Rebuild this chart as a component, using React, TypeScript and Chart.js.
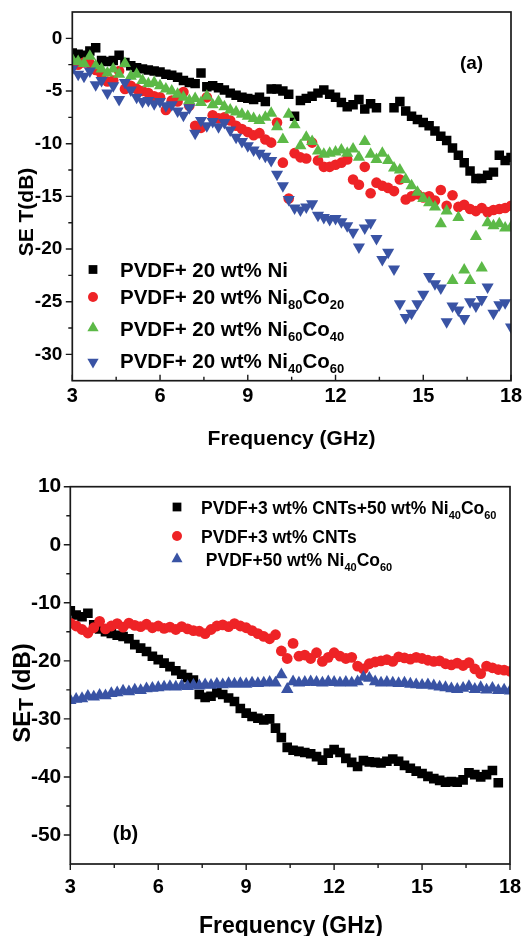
import React, { useEffect, useRef } from "react";
import { Chart, registerables } from "chart.js";

Chart.register(...registerables);

const FONT = '"Liberation Sans", Arial, Helvetica, sans-serif';

// ---------- axis ticks ----------
const FREQ_TICKS = [3, 6, 9, 12, 15, 18];
const FREQ_MINOR = [4.5, 7.5, 10.5, 13.5, 16.5];
const A_Y_TICKS = [0, -5, -10, -15, -20, -25, -30];
const A_Y_MINOR = [-2.5, -7.5, -12.5, -17.5, -22.5, -27.5];
const B_Y_TICKS = [10, 0, -10, -20, -30, -40, -50];
const B_Y_MINOR = [5, -5, -15, -25, -35, -45];

// ---------- frequency grid (GHz) ----------
const FREQ = [
  3.0, 3.2, 3.4, 3.6, 3.8, 4.0, 4.2, 4.4, 4.6, 4.8,
  5.0, 5.2, 5.4, 5.6, 5.8, 6.0, 6.2, 6.4, 6.6, 6.8,
  7.0, 7.2, 7.4, 7.6, 7.8, 8.0, 8.2, 8.4, 8.6, 8.8,
  9.0, 9.2, 9.4, 9.6, 9.8, 10.0, 10.2, 10.4, 10.6, 10.8,
  11.0, 11.2, 11.4, 11.6, 11.8, 12.0, 12.2, 12.4, 12.6, 12.8,
  13.0, 13.2, 13.4, 13.6, 13.8, 14.0, 14.2, 14.4, 14.6, 14.8,
  15.0, 15.2, 15.4, 15.6, 15.8, 16.0, 16.2, 16.4, 16.6, 16.8,
  17.0, 17.2, 17.4, 17.6, 17.8, 18.0,
];

// ---------- panel (a): SE_T (dB) ----------
const A_NI = [
  -1.4, -1.5, -1.6, -1.2, -0.9, -2.1, -2.2, -2.1, -1.6, -2.3,
  -2.6, -2.8, -2.9, -3.0, -3.1, -3.2, -3.4, -3.5, -3.7, -4.0,
  -4.2, -4.3, -3.3, -4.6, -4.5, -4.7, -4.9, -5.2, -5.4, -5.6,
  -5.7, -5.8, -5.6, -6.0, -4.8, -4.8, -5.0, -5.3, -7.4, -5.9,
  -5.7, -5.5, -5.2, -4.9, -5.3, -5.6, -6.1, -6.5, -6.3, -5.8,
  -6.7, -6.2, -6.6, null, null, -6.6, -6.0, -6.9, -7.4, -7.7,
  -8.0, -8.3, -8.8, -9.3, -9.7, -10.4, -11.1, -11.8, -12.6, -13.3,
  -13.3, -13.0, -12.7, -11.1, -11.6, -11.3,
];
const A_NI80CO20 = [
  -2.6, -2.5, -2.3, -2.4, -3.0, -3.4, -4.1, -4.0, -3.1, -4.8,
  -4.5, -4.8, -5.0, -5.2, -5.5, -5.6, -6.8, -5.9, -6.0, -5.1,
  -6.4, -8.3, -8.5, -5.6, -7.3, -7.6, -7.5, -7.8, -8.3, -8.6,
  -8.9, -9.2, -9.0, -9.6, -9.9, -8.0, -11.8, -15.2, -10.9, -11.3,
  -11.4, -9.9, -11.6, -12.2, -12.2, -12.0, -11.8, -11.5, -13.4, -13.9,
  -12.2, -14.7, -13.7, -14.0, -14.2, -14.5, -13.4, -15.3, -15.0, -14.8,
  -15.1, -15.0, -15.4, -14.4, -15.9, -14.9, -16.0, -15.8, -16.2, -16.4,
  -16.1, -16.5, -16.3, -16.2, -16.1, -15.9,
];
const A_NI60CO40 = [
  -2.0, -2.2, -2.4, -1.7, -2.6, -2.9, -3.3, -2.9, -3.4, -2.4,
  -3.6, -3.4, -4.0, -4.3, -4.2, -4.5, -4.8, -5.0, -5.3, -5.6,
  -5.9, -5.7, -6.1, -5.5, -6.3, -6.0, -6.5, -6.8, -7.0, -7.2,
  -7.4, -7.6, -7.8, -7.5, -7.1, -8.4, -9.6, -7.2, -8.2, -10.2,
  -9.4, -9.8, -10.7, -11.0, -10.9, -10.8, -10.6, -10.9, -10.5, -11.3,
  -9.8, -11.0, -11.5, -10.9, -11.6, -12.3, -12.5, -13.4, -14.0, -14.6,
  -15.2, -15.6, -16.0, -17.6, -16.4, -23.0, -17.0, -22.0, -23.0, -18.8,
  -21.8, -17.5, -17.8, -17.6, -18.0, -17.9,
];
const A_NI40CO60 = [
  -2.9, -3.4, -3.6, -3.1, -4.4, -4.0, -5.2, -4.5, -5.8, -4.2,
  -4.9, -5.6, -6.0, -5.9, -6.2, -6.0, -6.4, -6.3, -6.9, -7.3,
  -6.6, -9.0, -7.8, -8.3, -7.9, -8.4, -8.0, -8.7, -9.4, -9.8,
  -10.2, -10.6, -10.9, -11.2, -11.6, -12.9, -14.0, -15.3, -16.1, -16.3,
  -16.0, -15.7, -16.8, -17.0, -17.2, -17.1, -17.4, -17.8, -18.4, -19.8,
  -18.0, -17.5, -19.0, -21.0, -20.3, -21.9, -25.2, -26.5, -26.1, -25.2,
  -24.3, -22.6, -23.3, -23.7, -26.9, -25.4, -25.8, -26.6, -25.0, -25.4,
  -24.8, -23.6, -26.1, -25.3, -25.1, -27.4,
];

// ---------- panel (b): SE_T (dB) ----------
const B_CNT_NICO = [
  -11.4, -12.1, -12.4, -11.8, -13.8, -14.5, -15.0, -15.3, -15.6, -15.8,
  -16.2, -17.2, -17.8, -18.4, -19.2, -19.8, -20.4, -21.0, -21.7, -22.3,
  -22.9, -23.3, -25.8, -26.3, -26.1, -25.5, -25.8, -26.4, -27.0, -28.2,
  -29.0, -29.6, -29.9, -30.2, -30.0, -31.6, -33.2, -34.9, -35.4, -35.6,
  -35.8, -36.0, -36.5, -37.1, -35.9, -35.3, -35.8, -36.8, -37.5, -38.2,
  -37.2, -37.4, -37.5, -37.6, -37.3, -36.9, -37.3, -38.0, -38.5, -39.0,
  -39.4, -39.9, -40.3, -40.6, -40.9, -40.8, -40.9, -40.5, -39.3, -39.6,
  -40.0, -39.6, -38.9, -41.0, null, null,
];
const B_CNT = [
  -13.5, -14.0, -14.6, -15.2, -14.3, -13.2, -14.5, -14.0, -13.6, -14.2,
  -13.5, -13.9, -14.1, -13.7, -14.3, -14.0, -14.4, -14.2, -14.6, -14.1,
  -14.5, -14.8, -14.9, -15.3, -14.6, -14.0, -13.8, -14.1, -13.6, -14.0,
  -14.3, -14.8, -15.3, -15.8, -16.2, -15.5, -18.3, -19.6, -17.0, -19.2,
  -19.0, -19.6, -18.6, -20.1, -19.4, -18.6, -19.2, -19.6, -19.4, -20.9,
  -21.4, -20.5, -20.2, -20.0, -19.8, -20.1, -19.3, -19.5, -19.7, -19.4,
  -19.6, -19.9, -20.1, -20.0, -20.5, -20.7, -20.4, -20.8, -20.3, -21.4,
  -22.2, -20.9, -21.2, -21.5, -21.6, -21.8,
];
const B_NICO = [
  -26.8, -26.6, -26.5, -26.1, -26.2, -25.9, -26.0, -25.6, -25.5, -25.2,
  -25.3, -25.0, -25.1, -24.8, -24.7, -24.6, -24.5, -24.4, -24.5, -24.3,
  -24.4, -24.2, -24.3, -24.1, -24.2, -24.0, -24.1, -23.9, -24.0, -23.9,
  -24.0, -23.8, -23.9, -23.8, -23.7, -23.8, -22.4, -24.9, -23.6, -23.8,
  -23.7, -23.6, -23.7, -23.8, -23.6, -23.7, -23.8, -23.7, -23.8, -23.6,
  -22.8, -23.0, -23.6, -23.8, -23.7, -23.8, -23.9, -23.8, -24.0, -24.1,
  -24.2, -24.1, -24.3, -24.5, -24.6, -24.8, -24.9, -24.7, -24.4, -24.9,
  -24.6, -25.0, -24.7, -25.1, -25.0, -25.2,
];

// ---------- legend labels (_{..} = subscript) ----------
const A_LABELS = [
  "PVDF+ 20 wt% Ni",
  "PVDF+ 20 wt% Ni_{80}Co_{20}",
  "PVDF+ 20 wt% Ni_{60}Co_{40}",
  "PVDF+ 20 wt% Ni_{40}Co_{60}",
];
const B_LABELS = [
  "PVDF+3 wt% CNTs+50 wt% Ni_{40}Co_{60}",
  "PVDF+3 wt% CNTs",
  " PVDF+50 wt% Ni_{40}Co_{60}",
];

const BLACK = "#000000";
const RED = "#ee2326";
const GREEN = "#5cb947";
const BLUE = "#3953a4";

type Seg = { t: string; sub: boolean };
function parseLabel(s: string): Seg[] {
  const out: Seg[] = [];
  const re = /_\{([^}]*)\}/g;
  let last = 0;
  let m: RegExpExecArray | null;
  while ((m = re.exec(s))) {
    if (m.index > last) out.push({ t: s.slice(last, m.index), sub: false });
    out.push({ t: m[1], sub: true });
    last = m.index + m[0].length;
  }
  if (last < s.length) out.push({ t: s.slice(last), sub: false });
  return out;
}

function drawSegs(
  ctx: CanvasRenderingContext2D,
  text: string,
  x: number,
  yMid: number,
  size: number,
  subSize: number,
  subDy: number,
  align: "left" | "center"
) {
  const segs = parseLabel(text);
  ctx.textBaseline = "alphabetic";
  ctx.textAlign = "left";
  const ws = segs.map((s) => {
    ctx.font = `bold ${s.sub ? subSize : size}px ${FONT}`;
    return ctx.measureText(s.t).width;
  });
  const total = ws.reduce((a, b) => a + b, 0);
  let cx = align === "center" ? x - total / 2 : x;
  const base = yMid + size * 0.358;
  segs.forEach((s, i) => {
    ctx.font = `bold ${s.sub ? subSize : size}px ${FONT}`;
    ctx.fillText(s.t, cx, s.sub ? base + subDy : base);
    cx += ws[i];
  });
}

function drawMarker(
  ctx: CanvasRenderingContext2D,
  style: string,
  rot: number,
  x: number,
  y: number,
  r: number,
  color: string
) {
  ctx.fillStyle = color;
  ctx.beginPath();
  if (style === "rect") {
    const h = r * Math.SQRT1_2;
    ctx.rect(x - h, y - h, 2 * h, 2 * h);
  } else if (style === "circle") {
    ctx.arc(x, y, r, 0, Math.PI * 2);
  } else {
    let a = (rot * Math.PI) / 180;
    ctx.moveTo(x + Math.sin(a) * r, y - Math.cos(a) * r);
    a += (2 * Math.PI) / 3;
    ctx.lineTo(x + Math.sin(a) * r, y - Math.cos(a) * r);
    a += (2 * Math.PI) / 3;
    ctx.lineTo(x + Math.sin(a) * r, y - Math.cos(a) * r);
    ctx.closePath();
  }
  ctx.fill();
}

interface Series {
  label: string;
  x: number[];
  y: (number | null)[];
  color: string;
  style: string;
  rot: number;
  r: number;
  legendR: number;
}

interface Spec {
  id: string;
  top: number;
  h: number;
  padTop: number;
  padRight: number;
  yW: number;
  xH: number;
  yMin: number;
  yMax: number;
  yTicks: number[];
  yMinor: number[];
  xTickDir: number; // 1 = outward, -1 = inward
  yFont: number;
  xFont: number;
  yPad: number;
  xPad: number;
  xTitle: { text: string; x: number; y: number; size: number };
  yTitle: { text: string; x: number; y: number; size: number; subSize: number; subDy: number };
  tag: { text: string; x: number; y: number; size: number };
  legend: { markerX: number; textX: number; rows: number[]; markerRows: number[]; size: number; subSize: number; subDy: number };
  series: Series[];
}

const SPEC_A: Spec = {
  id: "a",
  top: 0,
  h: 465,
  padTop: 12,
  padRight: 20,
  yW: 72.3,
  xH: 84.3,
  yMin: -32.5,
  yMax: 2.5,
  yTicks: A_Y_TICKS,
  yMinor: A_Y_MINOR,
  xTickDir: -1,
  yFont: 19,
  xFont: 20,
  yPad: 10,
  xPad: 4,
  xTitle: { text: "Frequency (GHz)", x: 291.6, y: 437, size: 21 },
  yTitle: { text: "SE T(dB)", x: 25, y: 212, size: 21, subSize: 21, subDy: 0 },
  tag: { text: "(a)", x: 471.5, y: 62, size: 19 },
  legend: {
    markerX: 93,
    textX: 120,
    rows: [269.5, 296.5, 329, 361],
    markerRows: [269.5, 297, 328, 362],
    size: 20.5,
    subSize: 13,
    subDy: 5,
  },
  series: [
    { label: A_LABELS[0], x: FREQ, y: A_NI, color: BLACK, style: "rect", rot: 0, r: 6.7, legendR: 6.2 },
    { label: A_LABELS[1], x: FREQ, y: A_NI80CO20, color: RED, style: "circle", rot: 0, r: 5.3, legendR: 5 },
    { label: A_LABELS[2], x: FREQ, y: A_NI60CO40, color: GREEN, style: "triangle", rot: 0, r: 7, legendR: 6.5 },
    { label: A_LABELS[3], x: FREQ, y: A_NI40CO60, color: BLUE, style: "triangle", rot: 180, r: 7, legendR: 6.5 },
  ],
};

const SPEC_B: Spec = {
  id: "b",
  top: 465,
  h: 471,
  padTop: 21.7,
  padRight: 21,
  yW: 70.3,
  xH: 72,
  yMin: -55,
  yMax: 10,
  yTicks: B_Y_TICKS,
  yMinor: B_Y_MINOR,
  xTickDir: 1,
  yFont: 21,
  xFont: 20,
  yPad: 9,
  xPad: 11,
  xTitle: { text: "Frequency (GHz)", x: 291, y: 460, size: 23 },
  yTitle: { text: "SE_{T} (dB)", x: 21, y: 228, size: 24, subSize: 21, subDy: 3 },
  tag: { text: "(b)", x: 125.5, y: 368, size: 20 },
  legend: {
    markerX: 177,
    textX: 201,
    rows: [42.5, 71.5, 95],
    markerRows: [42, 71, 94],
    size: 17.5,
    subSize: 11,
    subDy: 5,
  },
  series: [
    { label: B_LABELS[0], x: FREQ, y: B_CNT_NICO, color: BLACK, style: "rect", rot: 0, r: 6.8, legendR: 6.2 },
    { label: B_LABELS[1], x: FREQ, y: B_CNT, color: RED, style: "circle", rot: 0, r: 5.4, legendR: 5 },
    { label: B_LABELS[2], x: FREQ, y: B_NICO, color: BLUE, style: "triangle", rot: 0, r: 7.2, legendR: 6.4 },
  ],
};

function decorPlugin(spec: Spec) {
  return {
    id: "decor_" + spec.id,
    afterDraw(chart: any) {
      const ctx: CanvasRenderingContext2D = chart.ctx;
      const a = chart.chartArea;
      const xs = chart.scales.x;
      const ys = chart.scales.y;
      ctx.save();
      ctx.strokeStyle = "#1a1a1a";
      ctx.lineWidth = 1.7;
      ctx.strokeRect(a.left, a.top, a.right - a.left, a.bottom - a.top);
      ctx.lineWidth = 1.4;
      ctx.beginPath();
      spec.yTicks.forEach((v) => {
        const p = ys.getPixelForValue(v);
        ctx.moveTo(a.left - 6.5, p);
        ctx.lineTo(a.left, p);
      });
      spec.yMinor.forEach((v) => {
        const p = ys.getPixelForValue(v);
        ctx.moveTo(a.left - 4, p);
        ctx.lineTo(a.left, p);
      });
      FREQ_TICKS.forEach((v) => {
        const p = xs.getPixelForValue(v);
        ctx.moveTo(p, a.bottom);
        ctx.lineTo(p, a.bottom + spec.xTickDir * 6);
      });
      FREQ_MINOR.forEach((v) => {
        const p = xs.getPixelForValue(v);
        ctx.moveTo(p, a.bottom);
        ctx.lineTo(p, a.bottom + spec.xTickDir * 4);
      });
      ctx.stroke();

      ctx.fillStyle = "#000";
      drawSegs(ctx, spec.xTitle.text, spec.xTitle.x, spec.xTitle.y, spec.xTitle.size, spec.xTitle.size, 0, "center");
      ctx.save();
      ctx.translate(spec.yTitle.x, spec.yTitle.y);
      ctx.rotate(-Math.PI / 2);
      drawSegs(ctx, spec.yTitle.text, 0, 0, spec.yTitle.size, spec.yTitle.subSize, spec.yTitle.subDy, "center");
      ctx.restore();
      ctx.fillStyle = "#000";
      drawSegs(ctx, spec.tag.text, spec.tag.x, spec.tag.y, spec.tag.size, spec.tag.size, 0, "center");

      const L = spec.legend;
      spec.series.forEach((s, i) => {
        drawMarker(ctx, s.style, s.rot, L.markerX, L.markerRows[i], s.legendR, s.color);
        ctx.fillStyle = "#000";
        drawSegs(ctx, s.label, L.textX, L.rows[i], L.size, L.subSize, L.subDy, "left");
      });
      ctx.restore();
    },
  };
}

function buildConfig(spec: Spec): any {
  const n = spec.series.length;
  return {
    type: "scatter",
    data: {
      datasets: spec.series.map((s, i) => ({
        label: s.label,
        data: s.x.map((x, k) => ({ x, y: s.y[k] })),
        showLine: false,
        pointStyle: s.style,
        pointRotation: s.rot,
        pointRadius: s.r,
        pointHoverRadius: s.r,
        pointBackgroundColor: s.color,
        pointBorderColor: s.color,
        pointBorderWidth: 0,
        order: n - i,
        clip: 0,
      })),
    },
    options: {
      responsive: false,
      maintainAspectRatio: false,
      animation: false,
      devicePixelRatio: 1,
      events: [],
      layout: { padding: { left: 0, top: spec.padTop, right: spec.padRight, bottom: 0 } },
      plugins: {
        legend: { display: false },
        tooltip: { enabled: false },
        title: { display: false },
      },
      scales: {
        x: {
          type: "linear",
          min: 3,
          max: 18,
          afterBuildTicks: (sc: any) => {
            sc.ticks = FREQ_TICKS.map((v) => ({ value: v }));
          },
          afterFit: (sc: any) => {
            sc.height = spec.xH;
            sc.paddingLeft = 0;
            sc.paddingRight = 0;
          },
          grid: { display: false, drawTicks: false },
          border: { display: false },
          ticks: {
            autoSkip: false,
            maxRotation: 0,
            padding: spec.xPad,
            color: "#000",
            font: { family: FONT, size: spec.xFont, weight: "bold" },
            callback: (v: any) => String(v),
          },
        },
        y: {
          type: "linear",
          min: spec.yMin,
          max: spec.yMax,
          afterBuildTicks: (sc: any) => {
            sc.ticks = spec.yTicks.map((v) => ({ value: v }));
          },
          afterFit: (sc: any) => {
            sc.width = spec.yW;
            sc.paddingTop = 0;
            sc.paddingBottom = 0;
          },
          grid: { display: false, drawTicks: false },
          border: { display: false },
          ticks: {
            padding: spec.yPad,
            color: "#000",
            font: { family: FONT, size: spec.yFont, weight: "bold" },
            callback: (v: any) => String(v),
          },
        },
      },
    },
    plugins: [decorPlugin(spec)],
  };
}

function Panel({ spec }: { spec: Spec }) {
  const ref = useRef<HTMLCanvasElement>(null);
  useEffect(() => {
    const chart = new Chart(ref.current as HTMLCanvasElement, buildConfig(spec));
    return () => chart.destroy();
  }, [spec]);
  return (
    <canvas
      ref={ref}
      width={531}
      height={spec.h}
      style={{ position: "absolute", left: 0, top: spec.top, width: 531, height: spec.h, display: "block" }}
    />
  );
}

export default function App() {
  return (
    <div style={{ position: "absolute", left: 0, top: 0, width: 531, height: 936, background: "#fff" }}>
      <Panel spec={SPEC_A} />
      <Panel spec={SPEC_B} />
    </div>
  );
}
